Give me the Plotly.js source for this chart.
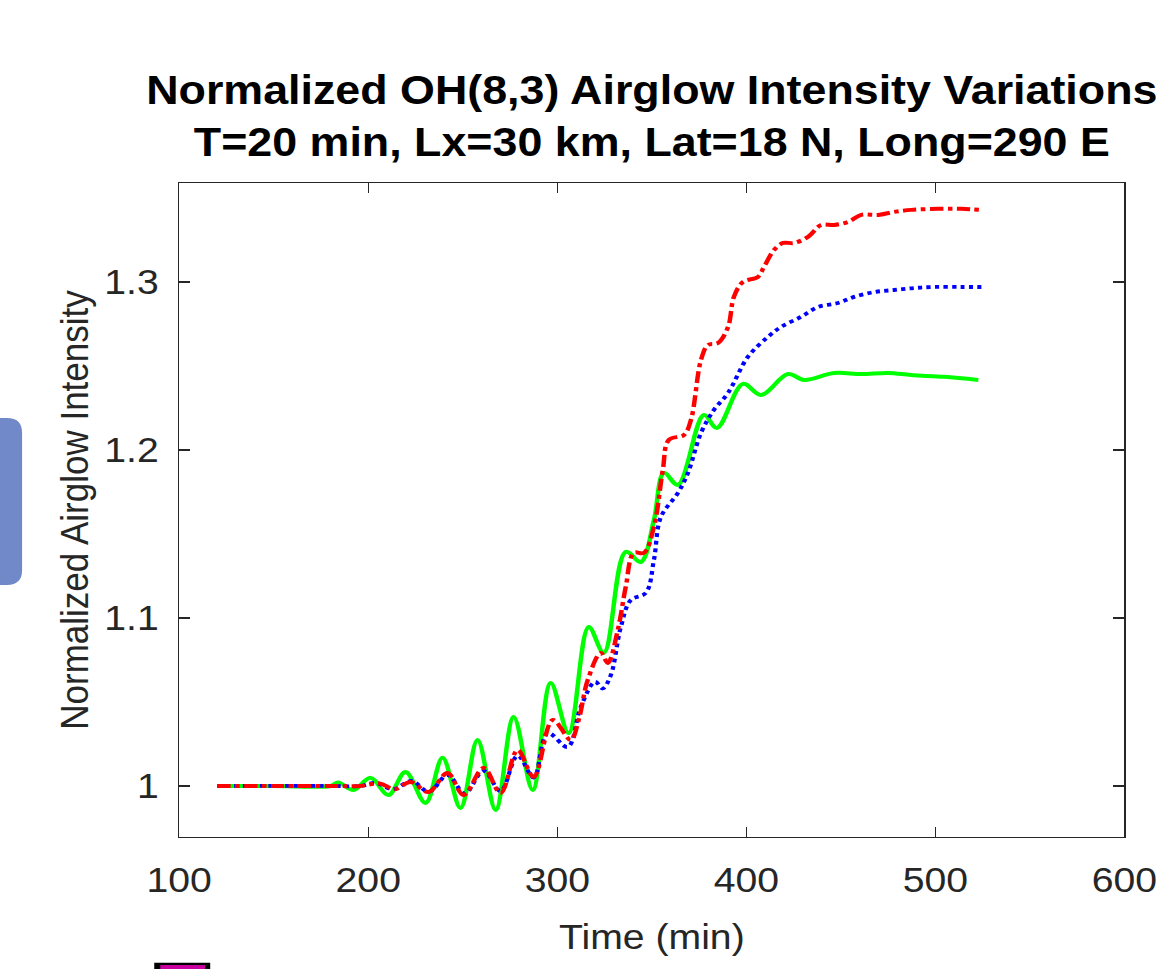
<!DOCTYPE html>
<html>
<head>
<meta charset="utf-8">
<script src="https://cdn.plot.ly/plotly-3.0.1.min.js"></script>
<style>
  html, body { margin: 0; padding: 0; background: #fff; overflow: hidden; }
  #wrap { width: 1165px; height: 969px; overflow: hidden; position: relative; }
  #plot { width: 1040px; height: 969px; transform: scaleX(1.12); transform-origin: 0 0; }
</style>
</head>
<body>
<div id="wrap"><div id="plot"></div></div>
<script>
// ---- data ----
const chartTitle = 'Normalized OH(8,3) Airglow Intensity Variations<br>T=20 min, Lx=30 km, Lat=18 N, Long=290 E';
const xTitle = 'Time (min)';
const yTitle = 'Normalized Airglow Intensity';
const xTicks = [100, 200, 300, 400, 500, 600];
const yTickVals = [1, 1.1, 1.2, 1.3];
const yTickText = ['1', '1.1', '1.2', '1.3'];

const greenX = [120, 150, 180, 184, 192.2, 201.2, 210.7, 219.7, 230.3, 239.3, 248.8, 257.8, 267.4, 276.9, 287.0, 296.5, 306.0, 316.6, 324.6, 336.2, 344.2, 351.1, 356.4, 363.8, 377.5, 384.4, 398.2, 407.7, 422.0, 430.5, 446.4, 460.7, 475.0, 487.2, 504.7, 522.7];
const greenY = [1.000, 1.000, 1.000, 1.002, 0.9976, 1.0048, 0.9946, 1.0083, 0.9899, 1.0167, 0.9869, 1.0274, 0.9857, 1.0411, 0.9976, 1.0613, 1.0315, 1.0946, 1.0792, 1.1393, 1.1333, 1.1583, 1.1863, 1.1792, 1.2208, 1.2131, 1.2393, 1.2327, 1.2452, 1.2417, 1.2458, 1.2452, 1.2458, 1.2446, 1.2435, 1.2417];

const redX = [120, 150, 180, 196, 206, 214, 222.4, 231.9, 241.9, 250.4, 261.0, 270.0, 279.0, 287.5, 297.6, 307.1, 311.3, 316.1, 323.0, 326.7, 332.0, 336.2, 340.5, 345.8, 351.1, 355.8, 359.0, 367.0, 370.7, 376.0, 379.7, 385.0, 390.3, 393.4, 398.2, 406.1, 409.3, 414.6, 419.4, 425.2, 432.6, 439.5, 446.4, 453.8, 460.7, 469.7, 478.2, 487.2, 501.5, 513.7, 524.3];
const redY = [1.000, 1.000, 1.000, 1.000, 1.0015, 0.998, 1.0024, 0.9964, 1.0077, 0.9946, 1.0107, 0.9958, 1.0214, 1.0054, 1.0393, 1.0274, 1.0393, 1.0631, 1.0792, 1.0732, 1.0929, 1.1185, 1.1387, 1.1387, 1.1542, 1.1881, 1.2060, 1.2089, 1.2179, 1.2536, 1.2625, 1.2637, 1.2732, 1.2911, 1.3000, 1.3030, 1.3089, 1.3190, 1.3232, 1.3232, 1.3268, 1.3339, 1.3339, 1.3357, 1.3399, 1.3399, 1.3417, 1.3429, 1.3435, 1.3435, 1.3429];

const blueX = [120, 150, 180, 196, 204, 213, 223, 232, 242, 251, 261, 270, 279, 287.5, 294.9, 305.5, 312.4, 320.0, 324.0, 328.3, 333.6, 338.9, 346.8, 351.1, 354.8, 363.8, 369.1, 376.0, 382.8, 390.3, 400.8, 411.4, 418.3, 428.9, 437.9, 448.5, 457.0, 467.6, 478.2, 488.8, 499.4, 513.7, 524.3];
const blueY = [1.000, 1.000, 1.000, 1.000, 1.0018, 0.998, 1.003, 0.9965, 1.0065, 0.9955, 1.009, 0.997, 1.018, 1.005, 1.0315, 1.0232, 1.047, 1.062, 1.058, 1.066, 1.0946, 1.1107, 1.1149, 1.1345, 1.1601, 1.1744, 1.1863, 1.2101, 1.2238, 1.2339, 1.2554, 1.2673, 1.2732, 1.2792, 1.2851, 1.2875, 1.2911, 1.2940, 1.2952, 1.2964, 1.2970, 1.2970, 1.2970];

// ---- chart ----
const FONT = 'Arial, "Liberation Sans", Helvetica, sans-serif';
const AX = '#262626';

const traces = [
  {x: greenX, y: greenY, type: 'scatter', mode: 'lines', name: 'green',
   line: {color: '#00ff00', width: 4, shape: 'spline', smoothing: 1}},
  {x: blueX, y: blueY, type: 'scatter', mode: 'lines', name: 'blue',
   line: {color: '#0000ff', width: 3.8, dash: 'dot', shape: 'spline', smoothing: 1}},
  {x: redX, y: redY, type: 'scatter', mode: 'lines', name: 'red',
   line: {color: '#ff0000', width: 4, dash: 'dashdot', shape: 'spline', smoothing: 1}}
];

// screenshot artefacts (blue side tab, magenta square) in paper units
const tabRight = -0.1662, tabTop = 0.6407, tabBot = 0.3853, rx = 0.0159, ry = 0.0229;
const tabPath = 'M -0.3,' + tabTop + ' L ' + (tabRight - rx) + ',' + tabTop +
  ' Q ' + tabRight + ',' + tabTop + ' ' + tabRight + ',' + (tabTop - ry) +
  ' L ' + tabRight + ',' + (tabBot + ry) +
  ' Q ' + tabRight + ',' + tabBot + ' ' + (tabRight - rx) + ',' + tabBot +
  ' L -0.3,' + tabBot + ' Z';

const layout = {
  width: 1040, height: 969,
  margin: {l: 159.8, r: 36.4, t: 183, b: 132, pad: 0},
  paper_bgcolor: '#ffffff', plot_bgcolor: '#ffffff',
  showlegend: false,
  font: {family: FONT, color: AX},
  title: {
    text: chartTitle,
    font: {family: FONT, size: 40, color: '#000000', weight: 'bold'},
    x: 0.5, xref: 'paper', xanchor: 'center',
    y: 0.893, yref: 'container', yanchor: 'top'
  },
  xaxis: {
    range: [100, 600], tickvals: xTicks, ticktext: xTicks.map(String),
    showgrid: false, zeroline: false,
    showline: true, linecolor: AX, linewidth: 1.3, mirror: 'allticks',
    ticks: 'inside', ticklen: 10, tickwidth: 1.3, tickcolor: AX,
    tickfont: {family: FONT, size: 35, color: AX},
    ticklabelstandoff: 12,
    title: {text: xTitle, font: {family: FONT, size: 35, color: AX}, standoff: 26},
    automargin: false
  },
  yaxis: {
    range: [0.9696, 1.3589], tickvals: yTickVals, ticktext: yTickText,
    showgrid: false, zeroline: false,
    showline: true, linecolor: AX, linewidth: 1.3, mirror: 'allticks',
    ticks: 'inside', ticklen: 10, tickwidth: 1.3, tickcolor: AX,
    tickfont: {family: FONT, size: 35, color: AX},
    ticklabelstandoff: 10,
    title: {text: yTitle, font: {family: FONT, size: 35, color: AX}, standoff: 3},
    automargin: false
  },
  shapes: [
    {type: 'path', xref: 'paper', yref: 'paper', path: tabPath,
     fillcolor: '#7189c8', line: {width: 0}, layer: 'above'},
    {type: 'rect', xref: 'paper', yref: 'paper', x0: -0.0264, x1: 0.0328, y0: -0.25, y1: -0.1922,
     fillcolor: '#000000', line: {width: 0}, layer: 'above'},
    {type: 'rect', xref: 'paper', yref: 'paper', x0: -0.0200, x1: 0.0275, y0: -0.25, y1: -0.1957,
     fillcolor: '#c800a0', line: {width: 0}, layer: 'above'}
  ]
};

Plotly.newPlot('plot', traces, layout, {staticPlot: true, displayModeBar: false});
</script>
</body>
</html>
